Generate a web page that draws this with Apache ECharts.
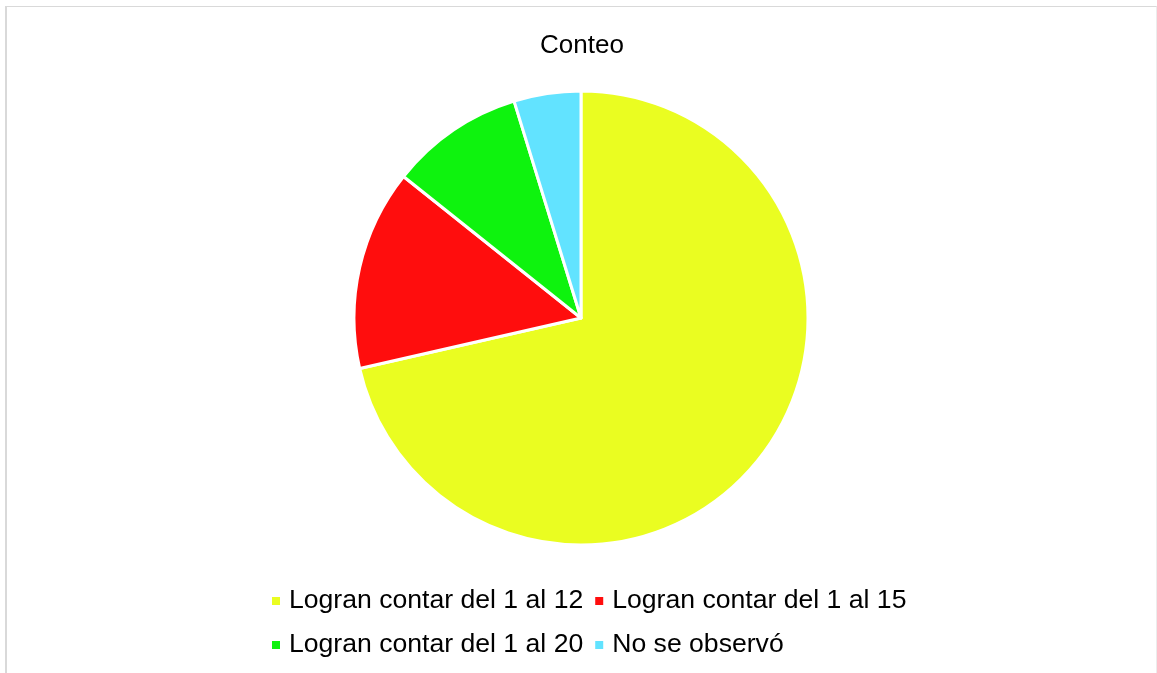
<!DOCTYPE html>
<html>
<head>
<meta charset="utf-8">
<style>
  html, body { margin: 0; padding: 0; background: #fff; }
  #chart { position: absolute; left: 0; top: 0; width: 1157px; height: 673px; }
  #frame {
    position: absolute; left: 5px; top: 6px; width: 1149px; height: 700px;
    border-top: 1px solid #d9d9d9; border-left: 2px solid #d9d9d9; border-right: 1px solid #ececec;
    pointer-events: none;
  }
</style>
</head>
<body>
<div id="chart"></div>
<div id="frame"></div>
<script src="https://cdn.jsdelivr.net/npm/echarts@6/dist/echarts.min.js"></script>
<script>
  // datos del gráfico
  const categories = ['Logran contar del 1 al 12', 'Logran contar del 1 al 15', 'Logran contar del 1 al 20', 'No se observó']
  const values = [15, 3, 2, 1]
  const colors = ['#EAFD21', '#FF0D0D', '#0EF30E', '#62E3FF']

  const chart = echarts.init(document.getElementById('chart'))

  const option = {
    animation: false,
    title: {
      text: 'Conteo',
      left: 535,
      top: 28,
      textStyle: { fontFamily: 'Liberation Sans, Arial', fontSize: 26, fontWeight: 'normal', color: '#000' }
    },
    legend: {
      left: 265,
      top: 579,
      width: 670,
      icon: 'rect',
      itemWidth: 10,
      itemHeight: 10,
      itemGap: 10,
      textStyle: {
        fontFamily: 'Liberation Sans, Arial',
        fontSize: 26.6,
        lineHeight: 34,
        color: '#000',
        padding: [0, 0, 0, 3]
      },
      data: categories
    },
    series: [{
      type: 'pie',
      center: [581, 318],
      radius: [0, 227],
      startAngle: 90,
      clockwise: true,
      label: { show: false },
      labelLine: { show: false },
      emphasis: { disabled: true },
      itemStyle: { borderColor: '#fff', borderWidth: 3 },
      data: categories.map((name, i) => ({
        name: name,
        value: values[i],
        itemStyle: { color: colors[i] }
      }))
    }]
  }

  chart.setOption(option)
</script>
</body>
</html>
